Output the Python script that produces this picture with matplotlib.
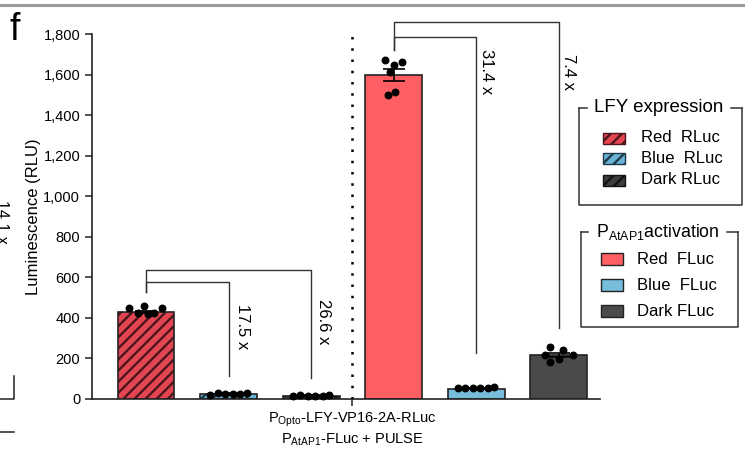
import numpy as np
import matplotlib.pyplot as plt
from matplotlib.patches import Rectangle
from matplotlib.lines import Line2D

plt.rcParams['font.family'] = ['Liberation Sans', 'DejaVu Sans']
plt.rcParams['mathtext.fontset'] = 'custom'
plt.rcParams['mathtext.rm'] = 'Liberation Sans'
plt.rcParams['hatch.linewidth'] = 1.7

# data
groups = ['Red  RLuc', 'Blue  RLuc', 'Dark RLuc', 'Red  FLuc', 'Blue  FLuc', 'Dark FLuc']
means = [429, 25, 16, 1598, 51, 217]
sems = [7, 3, 2, 30, 3, 11]
points = [
    [449, 424, 457, 419, 426, 448],
    [22, 28, 24, 26, 23, 30],
    [15, 18, 14, 17, 16, 19],
    [1672, 1612, 1647, 1499, 1514, 1662],
    [55, 54, 52, 56, 53, 58],
    [217, 256, 182, 197, 242, 217],
]
folds = ['17.5 x', '26.6 x', '31.4 x', '7.4 x']
yticks = [0, 200, 400, 600, 800, 1000, 1200, 1400, 1600, 1800]

# styles
colors = ['#e44552', '#6bb3d6', '#3d3d3d', '#ff5e62', '#76bddc', '#4a4a4a']
edges = ['#4a161b', '#1d3a48', '#111111', '#222222', '#222222', '#222222']
hatches = ['///', '///', '///', None, None, None]
jitter = [
    [-0.20, -0.10, -0.02, 0.02, 0.10, 0.20],
    [-0.22, -0.13, -0.04, 0.05, 0.14, 0.22],
    [-0.22, -0.13, -0.04, 0.05, 0.14, 0.22],
    [-0.10, -0.05, 0.00, -0.07, 0.02, 0.10],
    [-0.22, -0.13, -0.04, 0.05, 0.14, 0.22],
    [-0.17, -0.10, -0.10, 0.00, 0.05, 0.17],
]

W, H = 745, 449
fig = plt.figure(figsize=(W / 100, H / 100), dpi=100)
ax = fig.add_axes([92 / W, 1 - 399 / H, (600 - 92) / W, (399 - 34) / H])

x = np.arange(len(groups))
for i in range(len(groups)):
    if hatches[i]:
        ax.bar(x[i], means[i], width=0.69, color=colors[i], edgecolor=edges[i],
               hatch=hatches[i], linewidth=0, zorder=2)
    else:
        ax.bar(x[i], means[i], width=0.69, color=colors[i], linewidth=0, zorder=2)
    ax.bar(x[i], means[i], width=0.69, fill=False, edgecolor='#222222',
           linewidth=1.2, zorder=3)
    ax.errorbar(x[i], means[i], yerr=sems[i], color='black', capsize=8,
                elinewidth=1.2, capthick=1.2, zorder=4)
    ax.scatter(x[i] + np.array(jitter[i]), points[i], s=22,
               color='black', zorder=5, clip_on=False)

# divider
ax.plot([2.5, 2.5], [0, 1810], linestyle=(0, (1, 3.5)), color='black', lw=1.8,
        clip_on=False)


# brackets
def bracket(x0, x1, ytop, yleft, yright, txt, tx, ty):
    ax.plot([x0, x0, x1, x1], [yleft, ytop, ytop, yright], color='#333333',
            lw=1.0, clip_on=False, zorder=1)
    ax.text(tx, ty, txt, rotation=-90, ha='left', va='top', fontsize=12)


bracket(0, 1, 577, 528, 113, folds[0], 1.08, 470)
bracket(0, 2, 636, 528, 104, folds[1], 2.06, 495)
bracket(3, 4, 1785, 1721, 227, folds[2], 4.04, 1725)
bracket(3, 5, 1859, 1721, 350, folds[3], 5.03, 1700)

ax.set_xlim(-0.654, 5.5)
ax.set_ylim(0, 1800)
ax.set_yticks(yticks)
ax.set_yticklabels([f'{v:,}' for v in yticks], fontsize=10.5)
ax.set_xticks([2.5])
ax.set_xticklabels([r'P$_{\mathrm{Opto}}$-LFY-VP16-2A-RLuc' + '\n' +
                    r'P$_{\mathrm{AtAP1}}$-FLuc + PULSE'], fontsize=10.5,
                   linespacing=1.2)
ax.tick_params(axis='both', length=5, width=1.1, color='#222222')
ax.tick_params(axis='x', pad=3)
ax.set_ylabel('Luminescence (RLU)', fontsize=12, labelpad=2)
for s in ['top', 'right']:
    ax.spines[s].set_visible(False)
for s in ['left', 'bottom']:
    ax.spines[s].set_linewidth(1.2)
    ax.spines[s].set_color('#222222')


# legends drawn in pixel positions
def fx(px):
    return px / W


def fy(py):
    return 1 - py / H


def legend_box(left, right, top, bottom, t0, t1, title, tsize, rows, px0, pw, ph, tx):
    for xs, ys in [([left, left, right, right], [top, bottom, bottom, top]),
                   ([left, t0], [top, top]), ([t1, right], [top, top])]:
        fig.add_artist(Line2D([fx(v) for v in xs], [fy(v) for v in ys],
                              color='#333333', lw=1.1))
    fig.text(fx((t0 + t1) / 2), fy(top), title, ha='center', va='center',
             fontsize=tsize)
    for (lab, c, e, h), ry in rows:
        fig.add_artist(Rectangle((fx(px0), fy(ry + ph / 2)), pw / W, ph / H,
                                 facecolor=c, edgecolor=e, hatch=h, lw=1.0))
        fig.text(fx(tx), fy(ry), lab, ha='left', va='center', fontsize=12)


items = list(zip(groups, colors, edges, hatches))
legend_box(579, 742, 108, 205, 587, 731, 'LFY expression', 13.5,
           list(zip(items[:3], [138, 159, 180])), 603, 22, 11, 641)
legend_box(581, 738, 232, 327, 588, 727, r'P$_{\mathrm{AtAP1}}$activation', 12.8,
           list(zip(items[3:], [259, 285, 311])), 601, 22, 12, 637)

# panel letter, frame and neighbouring-panel fragments
fig.text(fx(10), fy(30), 'f', fontsize=27, ha='left', va='center')
fig.add_artist(Line2D([0, 1], [fy(4.5), fy(4.5)], color='#9a9a9a', lw=2.2))
fig.add_artist(Line2D([0, fx(14), fx(14)], [fy(399), fy(399), fy(376)],
                      color='#222222', lw=1.1))
fig.add_artist(Line2D([0, fx(14)], [fy(432), fy(432)], color='#222222', lw=1.1))
fig.text(fx(-6), fy(200), '14.1 x', rotation=-90, ha='left', va='top',
         fontsize=11.5)

fig.savefig('out.png', dpi=100)
